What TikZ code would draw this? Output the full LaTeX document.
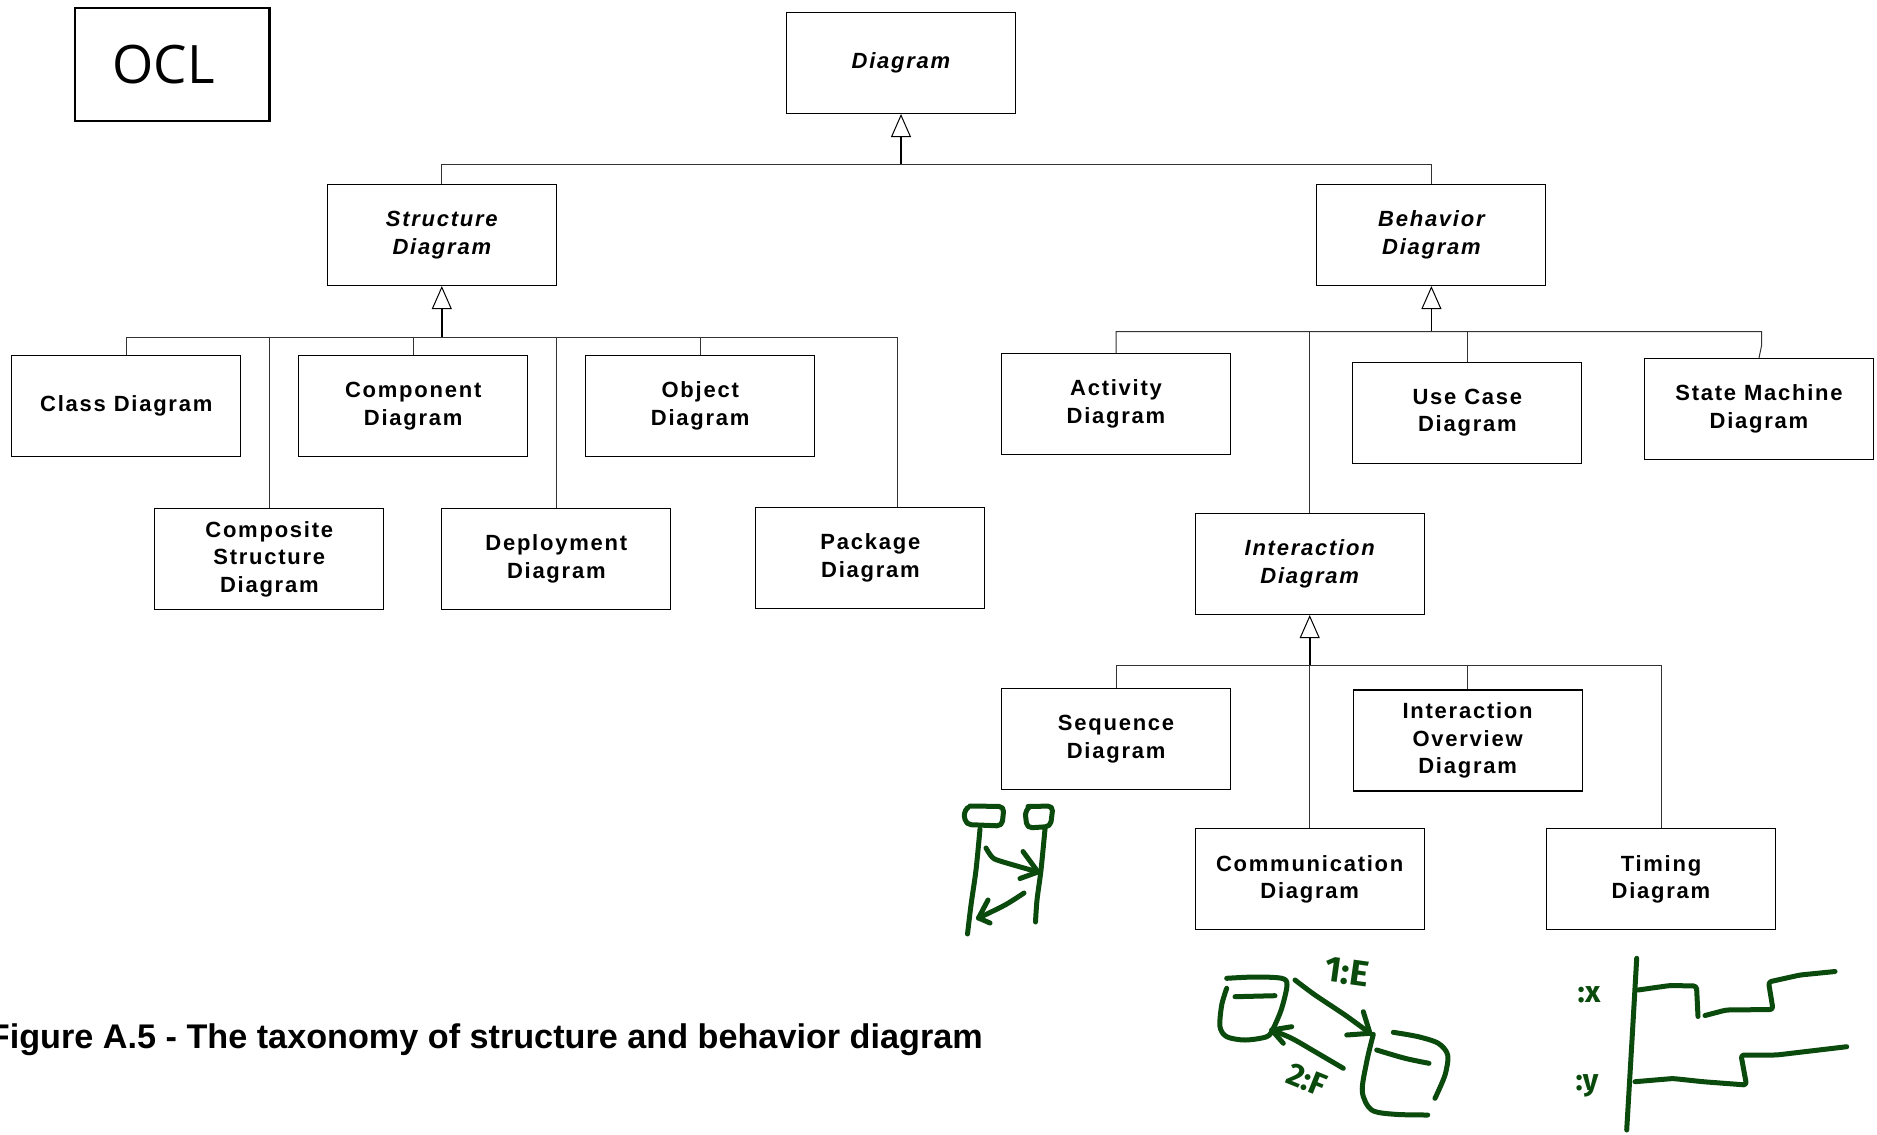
\documentclass[tikz,border=0pt]{standalone}
\usepackage{fontspec}
\usetikzlibrary{arrows.meta,calc}
\newfontfamily\boxfont[LetterSpace=8]{Liberation Sans}
\newfontfamily\capfont{Liberation Sans}
\newfontfamily\oclfont{Open Sans}
\newfontfamily\handfont{Fira Sans}
\definecolor{ink}{RGB}{10,74,12}

\begin{document}
\begin{tikzpicture}[x=1pt,y=-1pt,
  cls/.style={draw, line width=1.1pt, minimum width=229pt, minimum height=101pt,
    inner sep=0pt, align=center,
    font=\boxfont\fontsize{22}{27.5}\selectfont\bfseries},
  abs/.style={cls, font=\boxfont\fontsize{22}{27.5}\selectfont\bfseries\itshape},
  conn/.style={line width=1pt, draw=black!80},
  gen/.style={line width=1.8pt,
    -{Triangle[open,length=23pt,width=20pt,line width=1pt]}},
  pen/.style={draw=ink, line width=5pt, line cap=round, line join=round},
  hand/.style={text=ink, inner sep=0pt, font=\handfont\bfseries},
]
\useasboundingbox (0,0) rectangle (1877,1135);

% OCL tag
\node[draw, line width=2.5pt, minimum width=194.5pt, minimum height=113pt,
  inner sep=0pt, font=\oclfont\fontsize{53}{60}\selectfont] (ocl)
  at (172.1,64.3) {\hspace*{-17pt}OCL};

% class boxes
\node[abs] (diagram)   at (901,63)     {Diagram};
\node[abs] (structure) at (441.8,235)  {Structure\\Diagram};
\node[abs] (behavior)  at (1431.4,235) {Behavior\\Diagram};

\node[cls] (class)      at (126.3,406) {Class Diagram};
\node[cls] (component)  at (413.2,406) {Component\\Diagram};
\node[cls] (object)     at (700.2,406) {Object\\Diagram};
\node[cls] (composite)  at (269.3,559) {Composite\\Structure\\Diagram};
\node[cls] (deployment) at (556.3,559) {Deployment\\Diagram};
\node[cls] (package)    at (870.4,558) {Package\\Diagram};

\node[cls] (activity)     at (1116,404)     {Activity\\Diagram};
\node[abs] (interaction)  at (1309.7,564)   {Interaction\\Diagram};
\node[cls] (usecase)      at (1467.4,412.7) {Use Case\\Diagram};
\node[cls] (statemachine) at (1759,408.9)   {State Machine\\Diagram};

\node[cls] (sequence)      at (1116.1,738.9) {Sequence\\Diagram};
\node[cls] (overview)      at (1467.6,740.5) {Interaction\\Overview\\Diagram};
\node[cls] (communication) at (1309.7,879.3) {Communication\\Diagram};
\node[cls] (timing)        at (1661,879.3)   {Timing\\Diagram};

% generalisation trees
\coordinate (j0) at ($(diagram.south)+(0,50.5)$);
\draw[gen] (j0) -- (diagram.south);
\draw[conn] (structure.north) |- (j0) -| (behavior.north);

\coordinate (j1) at ($(structure.south)+(0,51)$);
\coordinate (pk) at ($(package.north)+(26.6,0)$);
\draw[gen] (j1) -- (structure.south);
\draw[conn] (class.north) |- (j1) -| (pk);
\foreach \n in {composite,component,deployment,object}
  \draw[conn] (j1 -| \n.north) -- (\n.north);

\coordinate (j2) at ($(behavior.south)+(0,45.5)$);
\coordinate (smk) at ($(statemachine.north)+(2.5,-12)$);
\draw[gen] (j2) -- (behavior.south);
\draw[conn] (activity.north) |- (j2) -| (smk) -- (statemachine.north);
\draw[conn] (j2 -| interaction.north) -- (interaction.north);
\draw[conn] (j2 -| usecase.north) -- (usecase.north);

\coordinate (j3) at ($(interaction.south)+(0,50.7)$);
\draw[gen] (j3) -- (interaction.south);
\draw[conn] (sequence.north) |- (j3) -| (timing.north);
\draw[conn] (j3 -| overview.north) -- (overview.north);
\draw[conn] (j3) -- (communication.north);

% caption
\node[font=\capfont\fontsize{34.2}{40}\selectfont\bfseries, anchor=base east,
  inner sep=0pt] (caption) at (983,1048)
  {Figure A.5 - The taxonomy of structure and behavior diagram};

% sketch: sequence
\draw[pen, rounded corners=5pt] (970,806) -- (1004,806.5) -- (1002,826) -- (966,824.5) -- (963.5,812) -- (968,807.5);
\draw[pen, rounded corners=5pt] (1028,806.5) -- (1053,806) -- (1050.5,826.5) -- (1027,828) -- (1025,811) -- (1029,807.5);
\draw[pen] plot[smooth] coordinates {(980,829) (976,870) (971,905) (967.5,934)};
\draw[pen] plot[smooth] coordinates {(1045,829) (1041,870) (1037,900) (1035.5,922)};
\draw[pen] plot[smooth] coordinates {(986,848) (992,857) (1000,861) (1038,872)};
\draw[pen] (1023,851.5) -- (1038,872) -- (1020,878.5);
\draw[pen] plot[smooth] coordinates {(1024,893) (1005,905) (978.5,918)};
\draw[pen] (988,900) -- (978.5,918) -- (990,923);

% sketch: communication
\draw[pen] plot[smooth] coordinates {(1226.7,978.3) (1255,977) (1281.7,978.3) (1287,985) (1281.7,1008.3) (1273.3,1028.3) (1266.7,1036.7) (1245,1040) (1226.7,1036.7) (1220,1026.7) (1221.7,1005) (1226.7,988.3)};
\draw[pen] (1235,996.7) -- (1275,995.7);
\draw[pen] plot[smooth] coordinates {(1295,980) (1315,995) (1345,1015) (1370,1033.3)};
\draw[pen] (1363.3,1011.7) -- (1370,1033.3) -- (1346.7,1035);
\draw[pen] plot[smooth] coordinates {(1343.3,1068.3) (1315,1051.7) (1291.7,1038.3) (1271.7,1030)};
\draw[pen] (1291.7,1026.7) -- (1271.7,1030) -- (1283.3,1043.3);
\draw[pen] plot[smooth] coordinates {(1393.3,1032.3) (1418.3,1036.7) (1438.3,1043.3) (1447.7,1055) (1445,1075) (1435,1098.3)};
\draw[pen] plot[smooth] coordinates {(1376.7,1050) (1405,1058.3) (1429,1063.3)};
\draw[pen] plot[smooth] coordinates {(1373.3,1034.3) (1366.7,1061.7) (1362.3,1091.7) (1371.7,1110) (1395,1114.3) (1427.7,1115)};
\node[hand, font=\handfont\bfseries\fontsize{36}{40}\selectfont, rotate=-8] (msg1) at (1347,972) {1:E};
\node[hand, font=\handfont\bfseries\fontsize{32}{36}\selectfont, rotate=-22] (msg2) at (1307,1080) {2:F};

% sketch: timing
\draw[pen] plot[smooth] coordinates {(1636.7,958.3) (1632,1040) (1626.7,1130)};
\draw[pen, rounded corners=3pt] (1638,990) -- (1670,985.5) -- (1696.5,986) -- (1698,1016.5);
\draw[pen, rounded corners=3pt] (1705,1015.5) -- (1726,1010) -- (1773,1009.5) -- (1768.5,982) -- (1800,975) -- (1835,971.5);
\draw[pen, rounded corners=3pt] (1635,1081.7) -- (1673,1078.5) -- (1703,1081.7) -- (1746.5,1085) -- (1741,1055) -- (1776.7,1055) -- (1846.7,1046.7);
\node[hand, font=\handfont\bfseries\fontsize{30}{34}\selectfont, anchor=base] (lx) at (1589,1002) {:x};
\node[hand, font=\handfont\bfseries\fontsize{30}{34}\selectfont, anchor=base] (ly) at (1587,1090) {:y};
\end{tikzpicture}
\end{document}
